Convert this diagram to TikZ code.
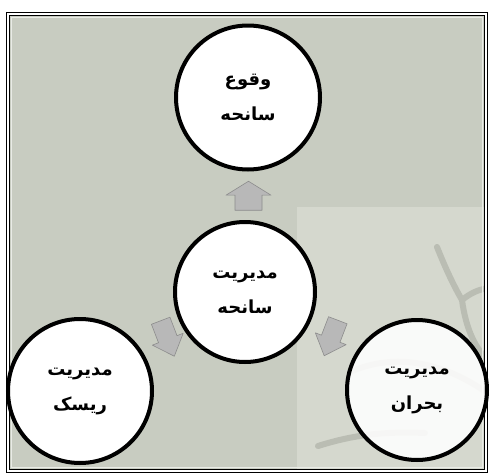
\documentclass[tikz,border=0pt]{standalone}
\usepackage{fontspec}
\newfontfamily\arabicfont[Script=Arabic]{DejaVu Sans}
\TeXXeTstate=1
\usetikzlibrary{calc}
\usetikzlibrary{positioning}

\definecolor{bgback}{RGB}{200,204,193}
\definecolor{bglight}{RGB}{213,216,206}
\definecolor{webgray}{RGB}{186,189,179}
\definecolor{arrowfill}{RGB}{184,184,184}
\definecolor{arrowedge}{RGB}{140,140,140}

\tikzset{
  stagecirc/.style={circle, draw=black, line width=4pt, fill=white, minimum size=#1, inner sep=0pt,
    align=center, font=\arabicfont\bfseries\fontsize{18}{35}\selectfont},
  web/.style={webgray, line width=6pt, line cap=round},
  pics/blockarr/.style n args={2}{code={
    \filldraw[arrowedge, fill=arrowfill, line width=.6pt, line join=round]
      (-#1/2,-0.3*#2) -- (0.02*#1,-0.3*#2) -- (0.02*#1,-#2/2) -- (#1/2,0)
      -- (0.02*#1,#2/2) -- (0.02*#1,0.3*#2) -- (-#1/2,0.3*#2) -- cycle;
  }}
}

\begin{document}
\begin{tikzpicture}[x=1pt, y=-1pt]
    \useasboundingbox (0,0) rectangle (491,474);

    % background
    \fill[bgback] (8,14) rectangle (486,471);
    \fill[bglight] (297,207) rectangle (486,471);
    \begin{scope}
        \clip (297,207) rectangle (486,471);
        \draw[web] (437,247) .. controls (447,272) and (455,288) .. (462,300);
        \draw[web] (462,300) .. controls (472,292) and (480,289) .. (490,288);
        \draw[web] (462,300) .. controls (466,330) and (476,350) .. (490,362);
        \draw[web] (350,372) .. controls (395,352) and (445,362) .. (490,395);
        \draw[web] (318,446) .. controls (350,436) and (380,431) .. (425,433);
    \end{scope}
    \draw[white!60!bgback, line width=1pt] (11.5,17.5) rectangle (482.5,467.5);
    \draw[line width=1pt, double=white, double distance=1.2pt] (8,14) rectangle (486,471);

    \node[stagecirc=144pt] (incident) at (248,97.5) {\beginR وقوع\endR\\\beginR سانحه\endR};
    \node[stagecirc=140pt] (mgmt) at (245,292) {\beginR مدیریت\endR\\\beginR سانحه\endR};
    \node[stagecirc=144pt] (risk) at (80,391) {\beginR مدیریت\endR\\\beginR ریسک\endR};
    \node[stagecirc=140pt, fill opacity=.88, text opacity=1] (crisis) at (417,390) {\beginR مدیریت\endR\\\beginR بحران\endR};

    % arrows
    \pic[rotate=90] at ($(mgmt)!0.5!(incident)+(2,1)$) {blockarr={29}{45}};
    \pic[rotate=-69] at ($(mgmt)!0.5!(risk)+(5,-3)$) {blockarr={38}{33}};
    \pic[rotate=-111] at ($(mgmt)!0.5!(crisis)+(0,-3)$) {blockarr={38}{33}};
\end{tikzpicture}
\end{document}
